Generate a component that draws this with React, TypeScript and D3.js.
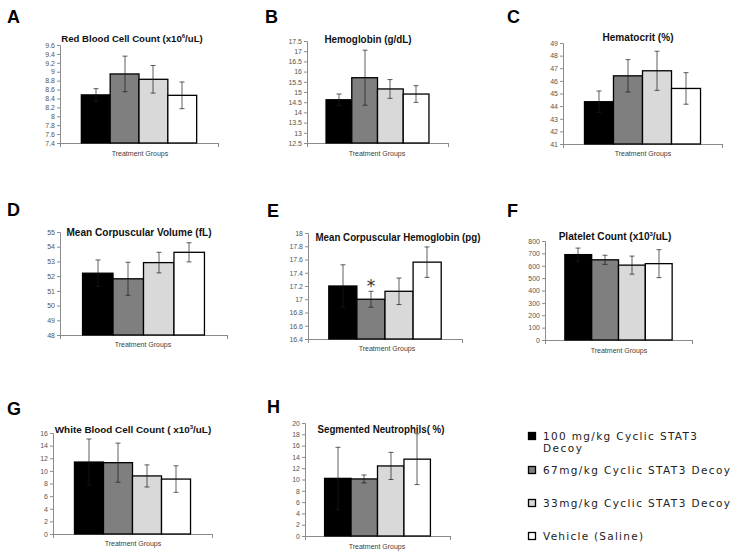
import React, { useEffect, useRef } from 'react';
import * as d3 from 'd3';

// treatment groups (same order in every panel)
const groups = [
  '100 mg/kg Cyclic STAT3 Decoy',
  '67mg/kg Cyclic STAT3 Decoy',
  '33mg/kg Cyclic STAT3 Decoy',
  'Vehicle (Saline)',
];
const groupFills = ['#000000', '#7f7f7f', '#d9d9d9', '#ffffff'];

// A - red blood cells
const rbcMeans = [8.48, 8.95, 8.83, 8.47];
const rbcErr = [0.14, 0.4, 0.31, 0.3];
const rbcTicks = [7.4, 7.6, 7.8, 8, 8.2, 8.4, 8.6, 8.8, 9, 9.2, 9.4, 9.6];
// B - hemoglobin
const hgbMeans = [14.62, 15.7, 15.15, 14.9];
const hgbErr = [0.28, 1.35, 0.46, 0.41];
const hgbTicks = [12.5, 13, 13.5, 14, 14.5, 15, 15.5, 16, 16.5, 17, 17.5];
// C - hematocrit
const hctMeans = [44.35, 46.4, 46.8, 45.4];
const hctErr = [0.85, 1.28, 1.55, 1.25];
const hctTicks = [41, 42, 43, 44, 45, 46, 47, 48, 49];
// D - MCV
const mcvMeans = [52.2, 51.82, 52.92, 53.62];
const mcvErr = [0.9, 1.12, 0.7, 0.65];
const mcvTicks = [48, 49, 50, 51, 52, 53, 54, 55];
// E - MCH
const mchMeans = [17.2, 17.0, 17.12, 17.56];
const mchErr = [0.32, 0.12, 0.2, 0.23];
const mchTicks = [16.4, 16.6, 16.8, 17, 17.2, 17.4, 17.6, 17.8, 18];
// F - platelets
const pltMeans = [690, 648, 605, 617];
const pltErr = [53, 37, 73, 113];
const pltTicks = [0, 100, 200, 300, 400, 500, 600, 700, 800];
// G - white blood cells
const wbcMeans = [11.4, 11.3, 9.2, 8.7];
const wbcErr = [3.65, 3.1, 1.75, 2.1];
const wbcTicks = [0, 2, 4, 6, 8, 10, 12, 14, 16];
// H - segmented neutrophils
const segMeans = [10.2, 10.1, 12.4, 13.6];
const segErr = [5.5, 0.7, 2.4, 4.5];
const segTicks = [0, 2, 4, 6, 8, 10, 12, 14, 16, 18, 20];

// titles: text between ^ ^ is superscript
const panels = [
  { letter: 'A', title: 'Red Blood Cell Count (x10^6^/uL)', means: rbcMeans, err: rbcErr, ticks: rbcTicks,
    lx: 7, ly: 23, x0: 60, x1: 218, yTop: 45, yBot: 143, tx: 132, ty: 42, tw: 142, fs: 9.6, gx: 140, gy: 156 },
  { letter: 'B', title: 'Hemoglobin (g/dL)', means: hgbMeans, err: hgbErr, ticks: hgbTicks,
    lx: 265, ly: 23, x0: 307, x1: 448, yTop: 41, yBot: 143, tx: 368, ty: 43, tw: 87, fs: 10, gx: 377, gy: 156 },
  { letter: 'C', title: 'Hematocrit (%)', means: hctMeans, err: hctErr, ticks: hctTicks,
    lx: 507, ly: 23, x0: 563, x1: 722, yTop: 43, yBot: 144, tx: 638, ty: 41, tw: 71, fs: 10, gx: 643, gy: 156 },
  { letter: 'D', title: 'Mean Corpuscular Volume (fL)', means: mcvMeans, err: mcvErr, ticks: mcvTicks,
    lx: 7, ly: 216, x0: 60, x1: 227, yTop: 232, yBot: 335, tx: 139, ty: 236, tw: 145, fs: 10, gx: 143, gy: 347 },
  { letter: 'E', title: 'Mean Corpuscular Hemoglobin (pg)', means: mchMeans, err: mchErr, ticks: mchTicks,
    lx: 267, ly: 217, x0: 308, x1: 462, yTop: 233, yBot: 339, tx: 398, ty: 241, tw: 165, fs: 10, gx: 387, gy: 351, star: 1 },
  { letter: 'F', title: 'Platelet Count (x10^3^/uL)', means: pltMeans, err: pltErr, ticks: pltTicks,
    lx: 507, ly: 217, x0: 545, x1: 692, yTop: 241, yBot: 340, tx: 615, ty: 240, tw: 112, fs: 10.1, gx: 619, gy: 353 },
  { letter: 'G', title: 'White Blood Cell Count ( x10^3^/uL)', means: wbcMeans, err: wbcErr, ticks: wbcTicks,
    lx: 7, ly: 415, x0: 53, x1: 212, yTop: 433, yBot: 534, tx: 133, ty: 433, tw: 157, fs: 9.9, gx: 133, gy: 546 },
  { letter: 'H', title: 'Segmented Neutrophils( %)', means: segMeans, err: segErr, ticks: segTicks,
    lx: 267, ly: 413, x0: 305, x1: 450, yTop: 423, yBot: 536, tx: 381, ty: 433, tw: 127, fs: 10, gx: 377, gy: 549 },
];

const legendLines = [
  ['100 mg/kg Cyclic STAT3', 'Decoy'],
  ['67mg/kg Cyclic STAT3 Decoy'],
  ['33mg/kg Cyclic STAT3 Decoy'],
  ['Vehicle (Saline)'],
];

const App = () => {
  const svgRef = useRef<SVGSVGElement>(null);
  const width = 738;
  const height = 556;

  useEffect(() => {
    const svg = d3.select(svgRef.current);
    svg.selectAll('*').remove();

    svg.append('rect').attr('width', width).attr('height', height).attr('fill', '#fff');

    panels.forEach(p => {
      const g = svg.append('g');
      const ext = d3.extent(p.ticks) as [number, number];

      const x = d3.scaleBand<string>()
        .domain(groups)
        .range([p.x0, p.x1])
        .paddingInner(0)
        .paddingOuter(0.74);
      const y = d3.scaleLinear().domain(ext).range([p.yBot, p.yTop]);

      // panel letter
      g.append('text')
        .attr('x', p.lx).attr('y', p.ly)
        .attr('font-family', 'Liberation Sans, Arial, sans-serif')
        .attr('font-weight', 'bold')
        .attr('font-size', 18)
        .text(p.letter);

      // y axis
      const yAxis = g.append('g')
        .attr('transform', `translate(${p.x0},0)`)
        .call(d3.axisLeft(y).tickValues(p.ticks).tickSize(3).tickPadding(2).tickFormat(d3.format('')));
      yAxis.select('.domain').attr('stroke', '#8c8c8c');
      yAxis.selectAll('line').attr('stroke', '#8c8c8c');
      yAxis.selectAll('text')
        .attr('font-family', 'Liberation Sans, Arial, sans-serif')
        .attr('font-size', 7)
        .attr('fill', '#555');

      // x axis (single category, tick marks at both ends)
      g.append('line')
        .attr('x1', p.x0).attr('x2', p.x1)
        .attr('y1', p.yBot + 0.5).attr('y2', p.yBot + 0.5)
        .attr('stroke', '#8c8c8c');
      [p.x0, p.x1].forEach(xx => {
        g.append('line')
          .attr('x1', xx + 0.5).attr('x2', xx + 0.5)
          .attr('y1', p.yBot).attr('y2', p.yBot + 4)
          .attr('stroke', '#8c8c8c');
      });

      // bars
      g.selectAll('.bar')
        .data(p.means)
        .enter().append('rect')
        .attr('class', 'bar')
        .attr('x', (d, i) => x(groups[i])!)
        .attr('width', x.bandwidth())
        .attr('y', d => y(d))
        .attr('height', d => y(ext[0]) - y(d))
        .attr('fill', (d, i) => groupFills[i])
        .attr('stroke', '#000')
        .attr('stroke-width', 1.3);

      // error bars
      p.means.forEach((m, i) => {
        const cx = Math.round(x(groups[i])! + x.bandwidth() / 2);
        const hi = y(m + p.err[i]);
        const lo = y(m - p.err[i]);
        const eg = g.append('g').attr('stroke', '#1a1a1a').attr('stroke-width', 0.7);
        eg.append('line').attr('x1', cx).attr('x2', cx).attr('y1', hi).attr('y2', lo);
        eg.append('line').attr('x1', cx - 2.5).attr('x2', cx + 2.5).attr('y1', hi).attr('y2', hi);
        eg.append('line').attr('x1', cx - 2.5).attr('x2', cx + 2.5).attr('y1', lo).attr('y2', lo);
      });

      // significance marker
      if (p.star !== undefined) {
        const i = p.star;
        g.append('text')
          .attr('x', x(groups[i])! + x.bandwidth() / 2)
          .attr('y', y(p.means[i] + p.err[i]) + 1)
          .attr('text-anchor', 'middle')
          .attr('font-family', 'DejaVu Sans, sans-serif')
          .attr('font-size', 17)
          .attr('fill', '#333')
          .text('*');
      }

      // title
      const parts = p.title.split('^');
      const tt = g.append('text')
        .attr('x', p.tx).attr('y', p.ty)
        .attr('text-anchor', 'middle')
        .attr('font-family', 'Liberation Sans, Arial, sans-serif')
        .attr('font-weight', 'bold')
        .attr('fill', '#111');
      if (parts.length === 1) {
        tt.attr('font-size', p.fs)
          .attr('textLength', p.tw)
          .attr('lengthAdjust', 'spacingAndGlyphs')
          .text(p.title);
      } else {
        tt.attr('font-size', p.fs);
        parts.forEach((s, k) => {
          const span = tt.append('tspan').text(s);
          if (k % 2 === 1) span.attr('font-size', 6).attr('dy', -4);
          else if (k > 0) span.attr('dy', 4);
        });
      }

      // x axis label
      g.append('text')
        .attr('x', p.gx).attr('y', p.gy)
        .attr('text-anchor', 'middle')
        .attr('font-family', 'Liberation Sans, Arial, sans-serif')
        .attr('font-size', 7)
        .attr('fill', '#404040')
        .text('Treatment Groups');
    });

    // legend
    const legendY = [436, 470, 503, 536];
    const legendW = [[154, 39], [187], [187], [100]];
    const lg = svg.append('g');
    legendLines.forEach((lines, i) => {
      lg.append('rect')
        .attr('x', 528.5).attr('y', legendY[i] - 3.5)
        .attr('width', 7).attr('height', 7)
        .attr('fill', groupFills[i])
        .attr('stroke', '#000')
        .attr('stroke-width', 1.3);
      lines.forEach((t, j) => {
        lg.append('text')
          .attr('x', 543)
          .attr('y', legendY[i] + 4 + j * 12)
          .attr('font-family', 'DejaVu Sans, sans-serif')
          .attr('font-size', 10.5)
          .attr('fill', '#222')
          .attr('textLength', legendW[i][j])
          .attr('lengthAdjust', 'spacing')
          .text(t);
      });
    });
  }, []);

  return (
    <svg ref={svgRef} width={width} height={height}
      style={{ position: 'absolute', left: 0, top: 0, display: 'block' }} />
  );
};

export default App;
